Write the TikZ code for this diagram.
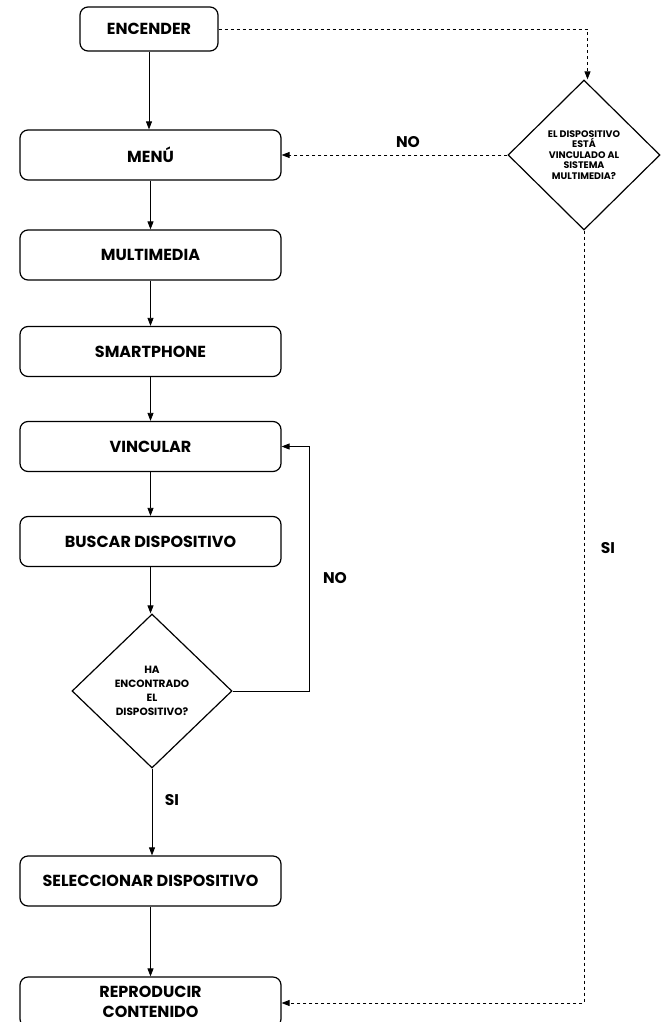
\documentclass[tikz,border=0pt]{standalone}
\usepackage{fontspec}
\setmainfont{Poppins}
\usetikzlibrary{shapes.geometric,arrows.meta}
\begin{document}
\begin{tikzpicture}[x=1pt,y=-1pt,
  box/.style={draw, rounded corners=8pt, line width=1.2pt, minimum width=261pt, minimum height=50pt, inner sep=0pt, font=\bfseries\fontsize{16}{20}\selectfont, align=center},
  dec/.style={draw, diamond, line width=1.2pt, inner sep=0pt, align=center},
  arr/.style={-{Triangle[length=8pt,width=6pt]}, line width=0.8pt},
  darr/.style={arr, dash pattern=on 3pt off 3pt},
  lbl/.style={font=\bfseries\fontsize{15.5}{18}\selectfont}]
\clip (0,0) rectangle (661,1022);
\useasboundingbox (0,0) rectangle (661,1022);
% nodes
\node[box, minimum width=138pt, minimum height=44pt] (enc) at (149,29) {ENCENDER};
\node[box] (menu) at (150.5,155) {MENÚ};
\node[box] (multi) at (150.5,255) {MULTIMEDIA};
\node[box] (smart) at (150.5,351.5) {SMARTPHONE};
\node[box] (vinc) at (150.5,446.5) {VINCULAR};
\node[box] (busc) at (150.5,541.5) {BUSCAR DISPOSITIVO};
\node[dec, minimum width=160pt, minimum height=154pt, aspect=1.04, font=\bfseries\fontsize{10.5}{14}\selectfont] (ha) at (152,691) {HA\\ENCONTRADO\\EL\\DISPOSITIVO?};
\node[box] (sel) at (150.5,881) {SELECCIONAR DISPOSITIVO};
\node[box] (rep) at (150.5,1002) {REPRODUCIR\\CONTENIDO};
\node[dec, minimum width=152pt, minimum height=150pt, aspect=1.01, font=\bfseries\fontsize{9.5}{10.5}\selectfont] (vq) at (584,155) {EL DISPOSITIVO\\ESTÁ\\VINCULADO AL\\SISTEMA\\MULTIMEDIA?};
% labels
\node[lbl] (no1) at (408,142) {NO};
\node[lbl] (no2) at (335,578) {NO};
\node[lbl] (si1) at (608,548) {SI};
\node[lbl] (si2) at (172,800) {SI};
\coordinate (c1) at (587.5,29);
\coordinate (c2) at (309,691);
\coordinate (c3) at (309,446.5);
\coordinate (c4) at (584,1003);
% solid connectors
\draw[arr] (enc.south) -- (enc.south |- menu.north);
\draw[arr] (menu.south) -- (multi.north);
\draw[arr] (multi.south) -- (smart.north);
\draw[arr] (smart.south) -- (vinc.south |- vinc.north);
\draw[arr] (vinc.south) -- (busc.north);
\draw[arr] (busc.south) -- (busc.south |- ha.north);
\draw[arr] (ha.south) -- (ha.south |- sel.north);
\draw[arr] (sel.south) -- (rep.north);
\draw[arr] (ha.east) -- (c2) -- (c3) -- (vinc.east);
% dashed connectors
\draw[darr] (enc.east) -- (c1) -- (c1 |- vq.north);
\draw[darr] (vq.west) -- (menu.east);
\draw[darr] (vq.south) -- (c4) -- (rep.east |- c4);
\end{tikzpicture}
\end{document}
